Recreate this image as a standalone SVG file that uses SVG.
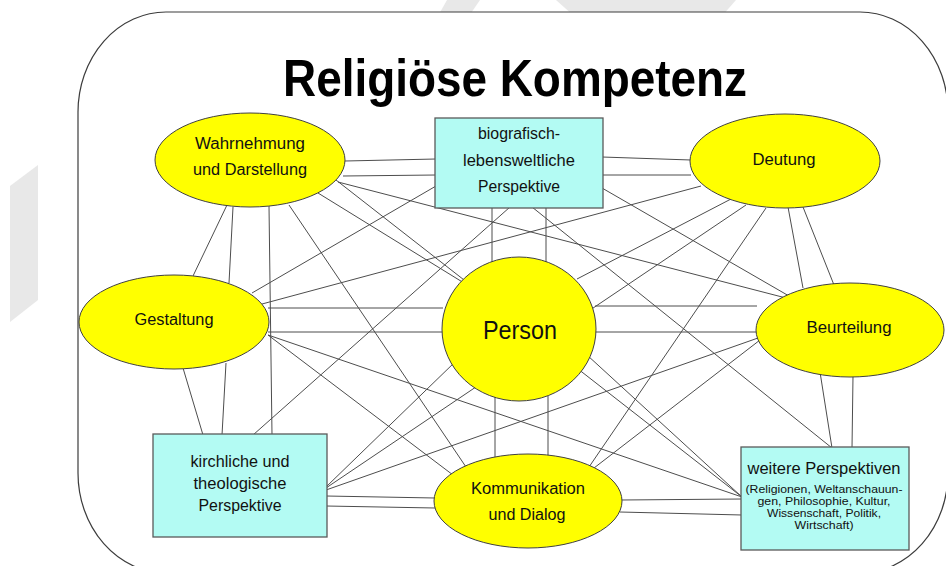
<svg xmlns="http://www.w3.org/2000/svg" width="946" height="566" viewBox="0 0 946 566">
  <style>
    .frame { fill: #ffffff; stroke: #3c3c3c; stroke-width: 1.2; }
    .wm { fill: #e8e8e8; stroke: none; }
    .edge { stroke: #4d4d4d; stroke-width: 1; fill: none; }
    .comp { fill: #ffff00; stroke: #404040; stroke-width: 1; }
    .persp { fill: #b3fbf3; stroke: #5a5a5a; stroke-width: 1.3; }
    text { font-family: "Liberation Sans", Arial, sans-serif; fill: #111111; text-anchor: middle; }
    .lbl { font-size: 16px; }
    .small { font-size: 11.5px; }
    .title { font-size: 52px; font-weight: bold; fill: #000000; }
    .person { font-size: 25px; }
  </style>

  <!-- background -->
  <rect x="0" y="0" width="946" height="566" fill="#ffffff"/>
  <!-- faint background marks -->
  <polygon class="wm" points="447,0 480,0 469,16 438,16"/>
  <polygon class="wm" points="556,0 736,0 722,16 574,16"/>
  <polygon class="wm" points="10,186 38,165 38,300 10,322"/>

  <!-- outer frame -->
  <rect class="frame" x="78" y="12" width="870" height="561" rx="88" ry="100"/>

  <text class="title" x="515" y="96" textLength="464" lengthAdjust="spacingAndGlyphs">Religiöse Kompetenz</text>

  <!-- connectors -->
  <g id="connectors">
    <!-- paired links between neighbouring nodes -->
    <path class="edge" d="M345,161 L436,159 M343,176 L436,175"/>
    <path class="edge" d="M602,157 L691,160 M602,175 L691,175"/>
    <path class="edge" d="M268,308 L443,308 M268,332 L443,332"/>
    <path class="edge" d="M595,306 L757,306 M595,332 L757,332"/>
    <path class="edge" d="M326,496 L435,498 M326,506 L435,508"/>
    <path class="edge" d="M621,500 L742,499 M620,512 L742,515"/>
    <path class="edge" d="M227,205 L193,276 M233,207 L229,283"/>
    <path class="edge" d="M183,368 L203,435 M226,363 L222,435"/>
    <path class="edge" d="M492,207 L492,263 M546,207 L546,266"/>
    <path class="edge" d="M495,397 L495,457 M548,395 L548,457"/>
    <path class="edge" d="M788,207 L803,288 M803,207 L834,285"/>
    <path class="edge" d="M820,372 L832,448 M853,376 L852,448"/>
    <!-- single cross links -->
    <path class="edge" d="M269,206 L272,435"/>
    <path class="edge" d="M289,205 L466,467"/>
    <path class="edge" d="M318,193 L464,283"/>
    <path class="edge" d="M338,182 L786,298"/>
    <path class="edge" d="M336,180 L742,497"/>
    <path class="edge" d="M602,188 L789,296"/>
    <path class="edge" d="M436,186 L252,293"/>
    <path class="edge" d="M510,207 L253,435"/>
    <path class="edge" d="M532,207 L832,448"/>
    <path class="edge" d="M701,186 L262,304"/>
    <path class="edge" d="M746,205 L326,488"/>
    <path class="edge" d="M731,199 L577,279"/>
    <path class="edge" d="M766,208 L589,467"/>
    <path class="edge" d="M268,335 L453,475"/>
    <path class="edge" d="M268,335 L742,497"/>
    <path class="edge" d="M456,361 L326,487"/>
    <path class="edge" d="M587,355 L742,497"/>
    <path class="edge" d="M326,490 L758,338"/>
    <path class="edge" d="M760,340 L594,468"/>
  </g>

  <!-- nodes -->
  <g id="wahrnehmung">
    <ellipse class="comp" cx="250" cy="160" rx="95" ry="47"/>
    <text class="lbl" x="250" y="149" textLength="110" lengthAdjust="spacingAndGlyphs">Wahrnehmung</text>
    <text class="lbl" x="250" y="175" textLength="114" lengthAdjust="spacingAndGlyphs">und Darstellung</text>
  </g>

  <g id="biografisch">
    <rect class="persp" x="435" y="118" width="168" height="90"/>
    <text class="lbl" x="519" y="139" textLength="82" lengthAdjust="spacingAndGlyphs">biografisch-</text>
    <text class="lbl" x="519" y="166" textLength="112" lengthAdjust="spacingAndGlyphs">lebensweltliche</text>
    <text class="lbl" x="519" y="192" textLength="82" lengthAdjust="spacingAndGlyphs">Perspektive</text>
  </g>

  <g id="deutung">
    <ellipse class="comp" cx="785" cy="161" rx="95" ry="47"/>
    <text class="lbl" x="784" y="165" textLength="63" lengthAdjust="spacingAndGlyphs">Deutung</text>
  </g>

  <g id="gestaltung">
    <ellipse class="comp" cx="174" cy="322" rx="95" ry="47"/>
    <text class="lbl" x="174" y="325" textLength="79" lengthAdjust="spacingAndGlyphs">Gestaltung</text>
  </g>

  <g id="person">
    <ellipse class="comp" cx="519" cy="329" rx="77" ry="72"/>
    <text class="person" x="520" y="339" textLength="74" lengthAdjust="spacingAndGlyphs">Person</text>
  </g>

  <g id="beurteilung">
    <ellipse class="comp" cx="850" cy="330" rx="94" ry="47"/>
    <text class="lbl" x="849" y="333" textLength="85" lengthAdjust="spacingAndGlyphs">Beurteilung</text>
  </g>

  <g id="kirchlich">
    <rect class="persp" x="153" y="434" width="174" height="103"/>
    <text class="lbl" x="240" y="467" textLength="99" lengthAdjust="spacingAndGlyphs">kirchliche und</text>
    <text class="lbl" x="240" y="489" textLength="93" lengthAdjust="spacingAndGlyphs">theologische</text>
    <text class="lbl" x="240" y="511" textLength="83" lengthAdjust="spacingAndGlyphs">Perspektive</text>
  </g>

  <g id="kommunikation">
    <ellipse class="comp" cx="528" cy="501" rx="94" ry="47"/>
    <text class="lbl" x="528" y="494" textLength="114" lengthAdjust="spacingAndGlyphs">Kommunikation</text>
    <text class="lbl" x="527" y="520" textLength="77" lengthAdjust="spacingAndGlyphs">und Dialog</text>
  </g>

  <g id="weitere">
    <rect class="persp" x="741" y="447" width="168" height="103"/>
    <text class="lbl" x="824" y="474" textLength="153" lengthAdjust="spacingAndGlyphs">weitere Perspektiven</text>
    <text class="small" x="824" y="493" textLength="157" lengthAdjust="spacingAndGlyphs">(Religionen, Weltanschauun-</text>
    <text class="small" x="824" y="505" textLength="133" lengthAdjust="spacingAndGlyphs">gen, Philosophie, Kultur,</text>
    <text class="small" x="824" y="517" textLength="114" lengthAdjust="spacingAndGlyphs">Wissenschaft, Politik,</text>
    <text class="small" x="824" y="529" textLength="59" lengthAdjust="spacingAndGlyphs">Wirtschaft)</text>
  </g>
</svg>
